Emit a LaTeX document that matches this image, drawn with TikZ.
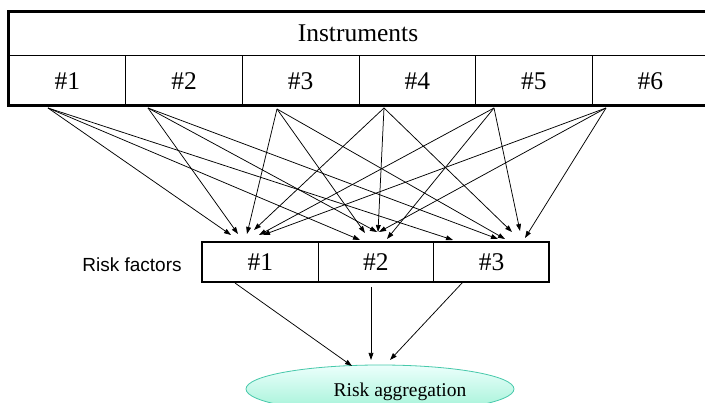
\documentclass[tikz,border=0pt]{standalone}
\usepackage{fontspec}
\setmainfont{Liberation Serif}
\newfontfamily\labelsans{Liberation Sans}
\usetikzlibrary{arrows.meta,shapes.geometric}
\definecolor{aggtop}{RGB}{236,255,252}
\definecolor{aggbot}{RGB}{160,242,214}
\definecolor{aggborder}{RGB}{70,200,170}
\begin{document}
\begin{tikzpicture}[x=1pt,y=-1pt,
  cell/.style={draw, line width=0.9pt, rectangle, inner sep=0pt, anchor=north west},
  bigtext/.style={font=\fontsize{25.5}{30}\selectfont},
  frame/.style={draw, line width=3pt},
  link/.style={line width=0.75pt, -{Triangle[length=7pt,width=4.8pt]}},
  ]
\useasboundingbox (0,0) rectangle (705,403);
\clip (0,0) rectangle (705,403);

% Instruments table
\node[cell, minimum width=699.6pt, minimum height=43pt] (head) at (8.7,12) {};
\node[bigtext] (headtext) at (358,33) {Instruments};
\foreach \i in {1,...,6} {
  \node[cell, bigtext, minimum width=116.6pt, minimum height=51pt] (c\i) at ({8.7+(\i-1)*116.6},55) {\#\i};
}
\draw[frame] (8.7,12) rectangle (708.3,106);

% Risk factor table
\node[font=\labelsans\fontsize{19}{22}\selectfont] (rflabel) at (132,264.5) {Risk factors};
\foreach \j in {1,2,3} {
  \node[cell, bigtext, minimum width=115.67pt, minimum height=40pt] (f\j) at ({202+(\j-1)*115.67},242) {\#\j};
}
\draw[frame, line width=2.8pt] (202,242) rectangle (549,282);

% Aggregation
\node[ellipse, draw=aggborder, line width=0.8pt, top color=aggtop, bottom color=aggbot,
      minimum width=268pt, minimum height=48pt, inner sep=0pt] (agg) at (380,389) {};
\node[font=\fontsize{19.5}{23}\selectfont] (aggtext) at (400,391.5) {Risk aggregation};

% start points
\coordinate (s1) at (48,108);
\coordinate (s2) at (148,108);
\coordinate (s3) at (277,109);
\coordinate (s4) at (384,108);
\coordinate (s5) at (494,108);
\coordinate (s6) at (606,108);
% end points (instrument, factor)
\coordinate (e11) at (231,235); \coordinate (e12) at (360,240); \coordinate (e13) at (453,240);
\coordinate (e21) at (238,234); \coordinate (e22) at (377,232); \coordinate (e23) at (498,239);
\coordinate (e31) at (247,234); \coordinate (e32) at (365,233); \coordinate (e33) at (505,239);
\coordinate (e41) at (254,230); \coordinate (e42) at (378,232); \coordinate (e43) at (512,232);
\coordinate (e51) at (259,235); \coordinate (e52) at (387,239); \coordinate (e53) at (520,231);
\coordinate (e61) at (263,235); \coordinate (e62) at (379,232); \coordinate (e63) at (525,238);

\foreach \i in {1,...,6} {
  \foreach \j in {1,2,3} {
    \draw[link] (s\i) -- (e\i\j);
  }
}

% factors to aggregation
\coordinate (g1) at (235,283);
\coordinate (g2) at (371,287);
\coordinate (g3) at (463,282);
\coordinate (a1) at (352,366);
\coordinate (a2) at (371,360);
\coordinate (a3) at (390,360);
\draw[link] (g1) -- (a1);
\draw[link] (g2) -- (a2);
\draw[link] (g3) -- (a3);
\end{tikzpicture}
\end{document}
